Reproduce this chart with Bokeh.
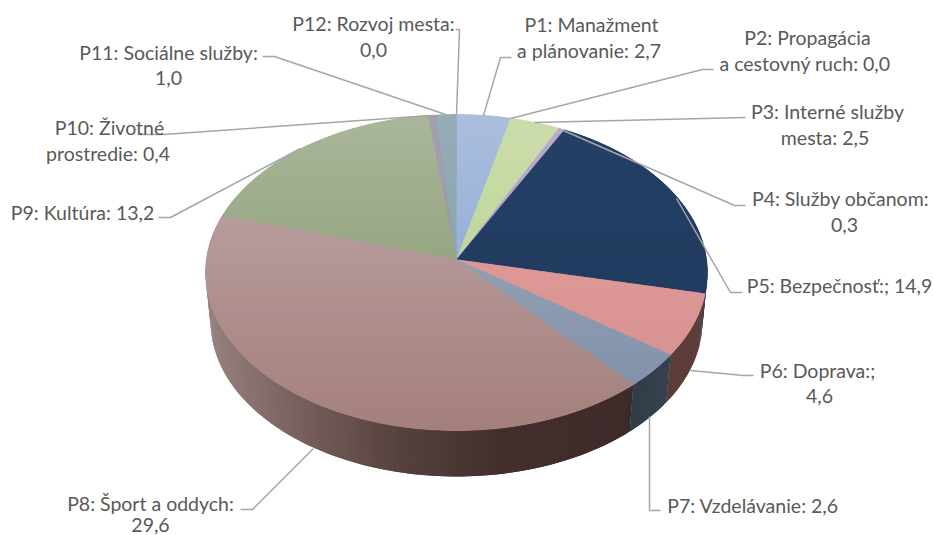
import math
from bokeh.plotting import figure
from bokeh.models import Range1d, ColumnDataSource
from bokeh.core.properties import value
from bokeh.embed import file_html
from bokeh.resources import INLINE

categories = ["P1", "P2", "P3", "P4", "P5", "P6", "P7", "P8", "P9", "P10", "P11", "P12"]
values = [2.7, 0.0, 2.5, 0.3, 14.9, 4.6, 2.6, 29.6, 13.2, 0.4, 1.0, 0.0]

top_light = [(172,191,222),(172,191,222),(205,220,172),(186,172,206),(36,64,100),(223,153,151),
             (146,160,180),(184,158,158),(172,183,155),(165,160,176),(152,172,182),(152,172,182)]
top_dark = [(150,175,215),(150,175,215),(190,215,155),(176,160,200),(33,60,96),(215,146,145),
            (130,145,170),(163,125,122),(148,165,128),(155,150,170),(135,165,175),(135,165,175)]

side_stops = {
    "P5": [(690,(34,62,98)),(710,(34,62,98))],
    "P6": [(630,(85,58,55)),(706,(95,62,58))],
    "P7": [(630,(48,60,72)),(670,(55,65,78))],
    "P8": [(205,(152,130,127)),(300,(118,95,92)),(400,(85,65,62)),(500,(66,47,45)),(640,(62,42,42))],
}

label_text = ["P1: Manažment", "a plánovanie:  2,7", "P2: Propagácia", "a cestovný ruch:  0,0",
              "P3: Interné služby", "mesta:  2,5", "P4: Služby občanom:", "0,3",
              "P5: Bezpečnosť:; 14,9", "P6: Doprava:;", "4,6", "P7: Vzdelávanie:  2,6",
              "P8: Šport a oddych:", "29,6", "P9: Kultúra: 13,2", "P10: Životné", "prostredie:  0,4",
              "P11: Sociálne služby:", "1,0", "P12: Rozvoj mesta:", "0,0"]
label_x = [591, 591, 807, 807, 827, 827, 840, 844, 839, 817, 819, 755, 150, 150, 82, 109, 110, 168, 168, 373, 373]
label_y = [24, 50, 37, 63, 111, 137, 198, 224, 285, 370, 395, 505, 503, 524, 212, 127, 153, 52, 77, 23, 49]

leaders = [
    [(511,57),(500,57),(483,115)],
    [(713,69),(702,69),(510,118)],
    [(745,117),(534,122)],
    [(745,205),(734,205),(563,130)],
    [(742,292),(730,292),(676,198)],
    [(753,375),(743,375),(690,370)],
    [(660,510),(649,510),(649,416)],
    [(240,509),(252,509),(313,448)],
    [(158,217),(170,217),(300,148)],
    [(137,134),(163,134),(430,115)],
    [(262,56),(274,56),(445,114)],
    [(455,29),(459,29),(456,114)],
]

# projection of the pie disc
CX, CY = 456.0, 259.0
A, B, E = 250.0, 156.9, 0.0823
DEPTH_Y, BOTTOM_SCALE = 49.4, 0.98


def project(theta_deg, r=1.0, dy=0.0, scale=1.0):
    t = math.radians(theta_deg)
    u, v = r * math.sin(t), r * math.cos(t)
    d = 1 + E * v
    return CX + scale * A * u / d, CY + dy - scale * B * v / d


def clip(poly, y0, y1):
    def half(points, inside, cross):
        out = []
        for i, p in enumerate(points):
            q = points[i - 1]
            if inside(p):
                if not inside(q):
                    out.append(cross(q, p))
                out.append(p)
            elif inside(q):
                out.append(cross(q, p))
        return out

    def at(y):
        def cross(a, b):
            t = (y - a[1]) / (b[1] - a[1])
            return (a[0] + t * (b[0] - a[0]), y)
        return cross
    res = half(poly, lambda p: p[1] >= y0, at(y0))
    if res:
        res = half(res, lambda p: p[1] <= y1, at(y1))
    return res


def mix(c0, c1, t):
    t = max(0.0, min(1.0, t))
    return "#%02x%02x%02x" % tuple(round(a + (b - a) * t) for a, b in zip(c0, c1))


def stop_color(stops, x):
    if x <= stops[0][0]:
        return mix(stops[0][1], stops[0][1], 0)
    for (x0, c0), (x1, c1) in zip(stops, stops[1:]):
        if x <= x1:
            return mix(c0, c1, (x - x0) / (x1 - x0))
    return mix(stops[-1][1], stops[-1][1], 0)


total = sum(values)
starts, acc = [], 0.0
for val in values:
    starts.append(acc / total * 360)
    acc += val

# side strips: each overlaps the next, which paints over it, so no seams show
sx, sy, sc = [], [], []
for name, val, a0 in zip(categories, values, starts):
    if name not in side_stops:
        continue
    a1 = a0 + val / total * 360
    n = max(2, int((a1 - a0) / 1.0))
    step = (a1 - a0) / n
    for i in range(n):
        t0 = a0 + step * i
        t1 = min(a1, t0 + 2 * step)
        p0, p1 = project(t0), project(t1)
        q0 = project(t0, dy=DEPTH_Y, scale=BOTTOM_SCALE)
        q1 = project(t1, dy=DEPTH_Y, scale=BOTTOM_SCALE)
        mid = project(t0 + step / 2)
        sx.append([p0[0], p1[0], q1[0], q0[0]])
        sy.append([p0[1], p1[1], q1[1], q0[1]])
        sc.append(stop_color(side_stops[name], mid[0]))

# top surface: an underlay per wedge, then pixel-aligned bands shading downwards
BAND = 2
ux, uy, uc = [], [], []
tx, ty, tc = [], [], []
for name, val, a0, c0, c1 in zip(categories, values, starts, top_light, top_dark):
    if val <= 0:
        continue
    a1 = a0 + val / total * 360
    n = max(2, int((a1 - a0) / 0.5))
    poly = [(CX, CY)] + [project(a0 + (a1 - a0) * i / n) for i in range(n + 1)]
    ux.append([p[0] for p in poly])
    uy.append([p[1] for p in poly])
    uc.append(mix(c0, c1, 0.5))
    ymin = min(p[1] for p in poly)
    ymax = max(p[1] for p in poly)
    y = math.floor(ymin)
    while y < ymax:
        piece = clip(poly, y, y + BAND)
        if len(piece) >= 3:
            tx.append([p[0] for p in piece])
            ty.append([p[1] for p in piece])
            tc.append(mix(c0, c1, (y + BAND / 2 - ymin) / max(ymax - ymin, 1)))
        y += BAND

p = figure(width=933, height=535, output_backend="svg", toolbar_location=None,
           x_range=Range1d(0, 933), y_range=Range1d(535, 0), min_border=0)
p.axis.visible = False
p.grid.visible = False
p.outline_line_color = None
p.background_fill_color = "white"

p.patches("x", "y", fill_color="c", line_color=None,
          source=ColumnDataSource(dict(x=sx, y=sy, c=sc)))
p.patches("x", "y", fill_color="c", line_color="c", line_width=0.6,
          source=ColumnDataSource(dict(x=ux, y=uy, c=uc)))
p.patches("x", "y", fill_color="c", line_color=None,
          source=ColumnDataSource(dict(x=tx, y=ty, c=tc)))

p.multi_line([[pt[0] for pt in l] for l in leaders], [[pt[1] for pt in l] for l in leaders],
             line_color="#a6a6a6", line_width=1.5)

p.text(label_x, label_y, text=label_text, text_align="center", text_baseline="middle",
       text_font=value("Lato"), text_font_size="19.5px", text_color="#595959")

open("out.html", "w").write(file_html(p, INLINE))
